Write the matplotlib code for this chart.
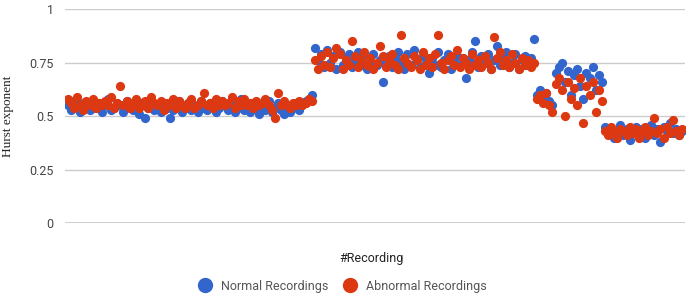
import matplotlib.pyplot as plt
from matplotlib.lines import Line2D

# Hurst exponent per recording (4 groups of recordings)
normal_seg1 = [0.55, 0.53, 0.57, 0.54, 0.52, 0.56, 0.55, 0.53, 0.57, 0.54,
               0.56, 0.52, 0.55, 0.58, 0.53, 0.54, 0.56, 0.55, 0.52, 0.57,
               0.54, 0.53, 0.55, 0.51, 0.56, 0.49, 0.54, 0.57, 0.53, 0.55,
               0.52, 0.56, 0.54, 0.49, 0.53, 0.55, 0.57, 0.52, 0.54, 0.56,
               0.53, 0.55, 0.52, 0.57, 0.54, 0.53, 0.56, 0.55, 0.52, 0.54,
               0.57, 0.55, 0.53, 0.56, 0.52, 0.54, 0.58, 0.53, 0.55, 0.52,
               0.56, 0.54, 0.51, 0.55, 0.53, 0.57, 0.52, 0.54, 0.56, 0.53,
               0.51, 0.55, 0.52, 0.54, 0.56, 0.53, 0.55, 0.57, 0.58, 0.60]
abnormal_seg1 = [0.58, 0.56, 0.54, 0.59, 0.55, 0.53, 0.57, 0.55, 0.58, 0.54,
                 0.56, 0.55, 0.57, 0.55, 0.59, 0.54, 0.56, 0.64, 0.55, 0.57,
                 0.54, 0.56, 0.58, 0.54, 0.55, 0.57, 0.54, 0.59, 0.56, 0.55,
                 0.57, 0.53, 0.56, 0.55, 0.58, 0.54, 0.57, 0.55, 0.54, 0.56,
                 0.58, 0.54, 0.55, 0.57, 0.61, 0.55, 0.56, 0.54, 0.58, 0.55,
                 0.57, 0.55, 0.56, 0.59, 0.54, 0.57, 0.55, 0.58, 0.55, 0.56,
                 0.54, 0.57, 0.55, 0.56, 0.58, 0.55, 0.53, 0.49, 0.61, 0.55,
                 0.57, 0.55, 0.54, 0.56, 0.55, 0.57, 0.55, 0.56, 0.58, 0.57]

normal_seg2 = [0.82, 0.76, 0.79, 0.73, 0.81, 0.75, 0.78, 0.72, 0.80, 0.74,
               0.77, 0.79, 0.73, 0.76, 0.80, 0.74, 0.78, 0.72, 0.75, 0.79,
               0.74, 0.76, 0.66, 0.74, 0.78, 0.73, 0.77, 0.80, 0.75, 0.72,
               0.79, 0.74, 0.81, 0.76, 0.73, 0.78, 0.75, 0.70, 0.77, 0.74,
               0.80, 0.73, 0.76, 0.79, 0.72, 0.75, 0.78, 0.74, 0.77, 0.68,
               0.76, 0.80, 0.85, 0.73, 0.78, 0.75, 0.79, 0.72, 0.76, 0.83,
               0.74, 0.77, 0.80, 0.73, 0.75, 0.79, 0.72, 0.76, 0.78, 0.74,
               0.77, 0.86]
abnormal_seg2 = [0.76, 0.72, 0.78, 0.74, 0.80, 0.73, 0.77, 0.82, 0.79, 0.72,
                 0.76, 0.74, 0.85, 0.78, 0.73, 0.76, 0.80, 0.74, 0.77, 0.72,
                 0.75, 0.83, 0.78, 0.73, 0.76, 0.79, 0.74, 0.72, 0.88, 0.77,
                 0.75, 0.73, 0.78, 0.76, 0.72, 0.80, 0.74, 0.77, 0.73, 0.79,
                 0.88, 0.75, 0.72, 0.76, 0.78, 0.74, 0.81, 0.73, 0.77, 0.75,
                 0.72, 0.79, 0.74, 0.76, 0.73, 0.78, 0.75, 0.72, 0.87, 0.77,
                 0.80, 0.74, 0.76, 0.73, 0.79, 0.75, 0.72, 0.77, 0.74, 0.76,
                 0.73, 0.75]

normal_seg3 = [0.60, 0.62, 0.58, 0.61, 0.57, 0.55, 0.70, 0.73, 0.75, 0.66,
               0.71, 0.60, 0.69, 0.72, 0.64, 0.58, 0.70, 0.68, 0.73, 0.62,
               0.69, 0.66]
abnormal_seg3 = [0.58, 0.60, 0.56, 0.61, 0.55, 0.52, 0.65, 0.68, 0.62, 0.50,
                 0.66, 0.58, 0.63, 0.55, 0.68, 0.47, 0.64, 0.60, 0.66, 0.52,
                 0.62, 0.57]

normal_seg4 = [0.45, 0.42, 0.44, 0.40, 0.43, 0.46, 0.41, 0.44, 0.39, 0.43,
               0.45, 0.42, 0.44, 0.40, 0.43, 0.46, 0.41, 0.44, 0.38, 0.45,
               0.43, 0.47, 0.42, 0.44, 0.41, 0.43]
abnormal_seg4 = [0.43, 0.41, 0.45, 0.42, 0.40, 0.44, 0.43, 0.41, 0.45, 0.42,
                 0.44, 0.40, 0.43, 0.45, 0.41, 0.43, 0.49, 0.42, 0.44, 0.40,
                 0.45, 0.42, 0.48, 0.43, 0.41, 0.44]

normal = normal_seg1 + normal_seg2 + normal_seg3 + normal_seg4
abnormal = abnormal_seg1 + abnormal_seg2 + abnormal_seg3 + abnormal_seg4
recording = list(range(len(normal)))

yticks = [0, 0.25, 0.5, 0.75, 1]
ytick_labels = ['0', '0.25', '0.5', '0.75', '1']

blue = '#3366CC'
red = '#DC3912'

plt.rcParams['font.family'] = ['Roboto', 'DejaVu Sans']

fig = plt.figure(figsize=(6.9, 3.04), dpi=100)
ax = fig.add_axes([0.094, 0.266, 0.899, 0.704])

ax.scatter(recording, normal, s=44, color=blue, linewidths=0, zorder=3)
ax.scatter(recording, abnormal, s=44, color=red, linewidths=0, zorder=4)

ax.set_ylim(0, 1)
ax.set_xlim(-1, len(normal))
ax.set_yticks(yticks)
ax.set_yticklabels(ytick_labels)
ax.set_xticks([])
ax.tick_params(axis='y', length=0, pad=8, labelsize=9, labelcolor='#444444')
ax.grid(axis='y', color='#cccccc', linewidth=1)
ax.set_axisbelow(True)
for s in ax.spines.values():
    s.set_visible(False)
ax.axhline(0, color='#333333', linewidth=1, zorder=2)

ax.set_ylabel('Hurst exponent', family=['Liberation Serif'], fontsize=9.5,
              color='#222222', labelpad=11)

fig.text(0.539, 0.151, '#Recording', ha='center', va='center',
         fontsize=9, color='#222222')

handles = [Line2D([], [], marker='o', linestyle='', color=blue, markersize=10),
           Line2D([], [], marker='o', linestyle='', color=red, markersize=10)]
fig.legend(handles, ['Normal Recordings', 'Abnormal Recordings'], ncol=2,
           loc='center', bbox_to_anchor=(0.492, 0.059), frameon=False,
           fontsize=9, labelcolor='#555555', handletextpad=0.3,
           columnspacing=0.7)

plt.savefig('out.png', dpi=100)
